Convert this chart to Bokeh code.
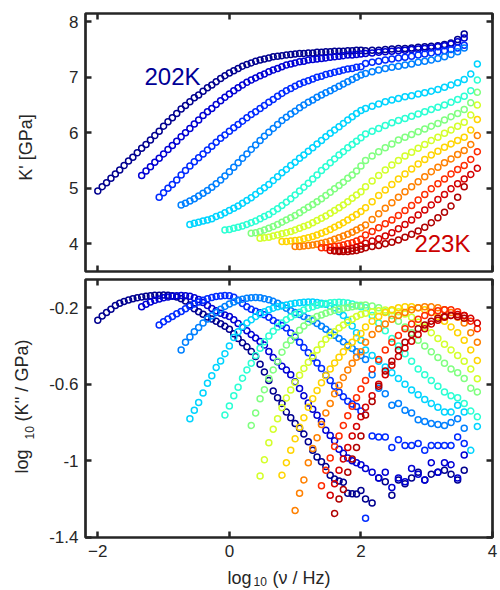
import math
from bokeh.plotting import figure
from bokeh.layouts import column, row
from bokeh.models import Range1d, LinearAxis, FixedTicker, CustomJSTickFormatter, Label
from bokeh.embed import file_html
from bokeh.resources import INLINE

# ---------------- data ----------------
# log10 frequency grids: low-frequency (dense) and high-frequency (sparse) instruments
XD = [-2.0, -1.933, -1.867, -1.8, -1.733, -1.667, -1.6, -1.533, -1.467, -1.4,
      -1.333, -1.267, -1.2, -1.133, -1.067, -1.0, -0.933, -0.867, -0.8, -0.733,
      -0.667, -0.6, -0.533, -0.467, -0.4, -0.333, -0.267, -0.2, -0.133, -0.067,
      0.0, 0.067, 0.133, 0.2, 0.267, 0.333, 0.4, 0.467, 0.533, 0.6,
      0.667, 0.733, 0.8, 0.867, 0.933, 1.0, 1.067, 1.133, 1.2, 1.267,
      1.333, 1.4, 1.467, 1.533, 1.6, 1.667, 1.733, 1.8, 1.867, 1.933, 2.0]
XS = [2.07, 2.17, 2.27, 2.37, 2.47, 2.57, 2.67, 2.77, 2.87, 2.97,
      3.07, 3.17, 3.27, 3.37, 3.47, 3.57, 3.67, 3.77]

# index in XD of first measured point of each temperature (202K ... 223K)
START = [0, 10, 14, 19, 21, 29, 35, 37, 42, 45, 51, 53, 54]

COLORS = ["#00008F", "#0000D4", "#002BFF", "#0080FF", "#00D4FF", "#2BFFD4", "#80FF80",
          "#D4FF2B", "#FFD400", "#FF8000", "#FF2B00", "#D40000", "#B00000"]

# K' [GPa]
TOP_DENSE = [
    [4.95,5.03,5.10,5.18,5.26,5.33,5.41,5.49,5.56,5.64,5.72,5.79,5.87,5.95,6.03,6.12,6.20,6.27,6.35,6.43,6.49,6.56,6.63,6.68,6.75,6.81,6.86,6.92,6.98,7.03,7.08,7.12,7.16,7.20,7.23,7.26,7.29,7.31,7.33,7.35,7.37,7.38,7.39,7.40,7.41,7.42,7.43,7.43,7.44,7.44,7.45,7.45,7.46,7.46,7.47,7.47,7.47,7.48,7.48,7.49,7.49],
    [5.23,5.31,5.39,5.47,5.54,5.62,5.70,5.77,5.85,5.93,6.00,6.08,6.16,6.23,6.31,6.38,6.44,6.51,6.58,6.64,6.70,6.76,6.81,6.86,6.91,6.95,6.99,7.03,7.06,7.10,7.13,7.16,7.19,7.22,7.24,7.26,7.28,7.29,7.31,7.32,7.33,7.34,7.35,7.36,7.37,7.38,7.39,7.40,7.40,7.41,7.42],
    [4.84,4.92,5.00,5.07,5.15,5.24,5.32,5.40,5.48,5.55,5.62,5.69,5.76,5.83,5.90,5.96,6.03,6.09,6.15,6.21,6.27,6.33,6.38,6.44,6.49,6.55,6.60,6.66,6.71,6.76,6.80,6.84,6.88,6.91,6.94,6.97,7.00,7.02,7.05,7.07,7.09,7.11,7.13,7.15,7.16,7.18,7.19],
    [4.70,4.73,4.77,4.81,4.86,4.91,4.96,5.02,5.08,5.15,5.22,5.30,5.38,5.46,5.54,5.62,5.70,5.78,5.86,5.94,6.01,6.08,6.15,6.22,6.28,6.34,6.39,6.45,6.50,6.55,6.59,6.64,6.68,6.72,6.76,6.80,6.84,6.88,6.92,6.96,7.00,7.04],
    [4.35,4.37,4.39,4.41,4.43,4.45,4.49,4.52,4.56,4.60,4.64,4.68,4.73,4.78,4.83,4.89,4.95,5.01,5.07,5.14,5.21,5.28,5.34,5.41,5.47,5.54,5.60,5.67,5.73,5.80,5.86,5.93,5.99,6.05,6.11,6.17,6.23,6.29,6.35,6.40],
    [4.25,4.26,4.28,4.30,4.32,4.35,4.38,4.41,4.45,4.49,4.53,4.58,4.63,4.69,4.75,4.81,4.88,4.95,5.02,5.09,5.17,5.24,5.32,5.39,5.46,5.53,5.60,5.66,5.73,5.79,5.85,5.91],
    [4.19,4.20,4.22,4.25,4.28,4.31,4.35,4.39,4.43,4.47,4.51,4.56,4.61,4.66,4.71,4.76,4.81,4.87,4.93,4.99,5.05,5.11,5.18,5.24,5.31,5.40],
    [4.10,4.11,4.12,4.14,4.16,4.18,4.20,4.22,4.25,4.28,4.31,4.34,4.38,4.42,4.46,4.50,4.55,4.60,4.65,4.70,4.76,4.82,4.88,4.94],
    [4.04,4.04,4.05,4.06,4.07,4.09,4.11,4.13,4.16,4.19,4.22,4.26,4.30,4.34,4.38,4.43,4.48,4.53,4.58],
    [3.95,3.95,3.96,3.97,3.98,3.99,4.01,4.03,4.05,4.08,4.11,4.14,4.17,4.21,4.25,4.29],
    [3.93,3.93,3.94,3.95,3.96,3.98,4.00,4.02,4.05,4.08],
    [3.88,3.88,3.88,3.89,3.90,3.92,3.94,3.96],
    [3.87,3.86,3.86,3.86,3.87,3.88,3.90],
]
TOP_SPARSE = [
    [7.48,7.49,7.49,7.50,7.51,7.52,7.52,7.53,7.54,7.55,7.56,7.57,7.59,7.62,7.68,7.78],
    [7.43,7.44,7.45,7.46,7.47,7.48,7.49,7.50,7.51,7.52,7.53,7.55,7.57,7.60,7.64,7.71],
    [7.25,7.27,7.29,7.31,7.33,7.35,7.36,7.38,7.40,7.42,7.44,7.46,7.48,7.50,7.53,7.58],
    [7.07,7.10,7.13,7.16,7.18,7.20,7.22,7.24,7.27,7.29,7.31,7.34,7.37,7.41,7.46,7.53],
    [6.44,6.48,6.52,6.56,6.59,6.62,6.65,6.67,6.70,6.72,6.75,6.78,6.82,6.86,6.90,6.96,7.06,7.24],
    [5.98,6.03,6.08,6.13,6.18,6.22,6.26,6.30,6.34,6.38,6.42,6.46,6.50,6.55,6.60,6.66,6.76,6.95],
    [5.50,5.58,5.66,5.73,5.80,5.87,5.92,5.97,6.02,6.07,6.12,6.17,6.23,6.29,6.35,6.42,6.54,6.73],
    [5.03,5.13,5.23,5.33,5.42,5.50,5.58,5.65,5.72,5.79,5.86,5.92,5.99,6.05,6.12,6.19,6.32,6.50],
    [4.65,4.76,4.87,4.97,5.07,5.17,5.26,5.35,5.44,5.52,5.60,5.67,5.74,5.80,5.86,5.92,6.05,6.24],
    [4.34,4.44,4.54,4.64,4.74,4.84,4.94,5.03,5.12,5.21,5.30,5.38,5.46,5.53,5.61,5.68,5.79,5.95],
    [4.16,4.22,4.29,4.36,4.43,4.51,4.60,4.69,4.79,4.89,4.99,5.08,5.17,5.26,5.34,5.41,5.52,5.66],
    [4.01,4.05,4.09,4.14,4.20,4.27,4.35,4.43,4.52,4.61,4.70,4.80,4.89,4.99,5.08,5.17,5.25,5.36],
    [3.93,3.95,3.97,4.00,4.03,4.07,4.12,4.17,4.23,4.30,4.38,4.47,4.57,4.68,4.84,5.03],
]

# log10(K'' / GPa)
BOT_DENSE = [
    [-0.265,-0.243,-0.225,-0.207,-0.188,-0.176,-0.167,-0.159,-0.153,-0.148,-0.144,-0.140,-0.137,-0.135,-0.134,-0.133,-0.134,-0.137,-0.143,-0.152,-0.165,-0.185,-0.205,-0.220,-0.234,-0.248,-0.258,-0.270,-0.284,-0.297,-0.312,-0.336,-0.360,-0.383,-0.404,-0.428,-0.455,-0.495,-0.535,-0.580,-0.635,-0.670,-0.700,-0.745,-0.775,-0.805,-0.830,-0.860,-0.900,-0.945,-0.980,-1.005,-1.030,-1.075,-1.095,-1.105,-1.112,-1.170,-1.172,-1.173,-1.155],
    [-0.195,-0.182,-0.170,-0.161,-0.154,-0.148,-0.143,-0.139,-0.137,-0.136,-0.137,-0.140,-0.147,-0.157,-0.172,-0.188,-0.203,-0.216,-0.228,-0.237,-0.245,-0.262,-0.282,-0.302,-0.320,-0.340,-0.358,-0.376,-0.395,-0.428,-0.460,-0.482,-0.505,-0.525,-0.550,-0.587,-0.622,-0.660,-0.698,-0.730,-0.762,-0.795,-0.840,-0.868,-0.895,-0.940,-0.960,-0.985,-1.000,-1.010,-1.020],
    [-0.290,-0.273,-0.258,-0.245,-0.231,-0.219,-0.205,-0.192,-0.180,-0.170,-0.161,-0.153,-0.146,-0.141,-0.138,-0.136,-0.137,-0.145,-0.160,-0.177,-0.195,-0.208,-0.218,-0.226,-0.236,-0.250,-0.266,-0.280,-0.292,-0.305,-0.332,-0.352,-0.380,-0.408,-0.435,-0.462,-0.488,-0.518,-0.552,-0.580,-0.610,-0.642,-0.665,-0.688,-0.703,-0.716,-0.740],
    [-0.420,-0.380,-0.352,-0.325,-0.303,-0.280,-0.258,-0.242,-0.225,-0.208,-0.193,-0.180,-0.170,-0.162,-0.155,-0.150,-0.147,-0.146,-0.148,-0.152,-0.158,-0.166,-0.176,-0.188,-0.202,-0.215,-0.225,-0.235,-0.245,-0.256,-0.268,-0.282,-0.297,-0.312,-0.328,-0.344,-0.360,-0.378,-0.396,-0.413,-0.430,-0.450],
    [-0.780,-0.735,-0.695,-0.645,-0.595,-0.555,-0.512,-0.478,-0.440,-0.400,-0.355,-0.325,-0.298,-0.280,-0.263,-0.246,-0.232,-0.220,-0.210,-0.202,-0.195,-0.190,-0.185,-0.180,-0.176,-0.173,-0.171,-0.170,-0.170,-0.172,-0.176,-0.182,-0.190,-0.200,-0.220,-0.240,-0.265,-0.295,-0.330,-0.370],
    [-0.761,-0.713,-0.660,-0.615,-0.568,-0.525,-0.490,-0.450,-0.412,-0.378,-0.348,-0.322,-0.300,-0.280,-0.262,-0.248,-0.235,-0.223,-0.212,-0.202,-0.194,-0.187,-0.181,-0.177,-0.174,-0.172,-0.171,-0.172,-0.175,-0.180,-0.186,-0.194],
    [-0.815,-0.750,-0.675,-0.628,-0.570,-0.525,-0.480,-0.432,-0.395,-0.370,-0.345,-0.318,-0.295,-0.275,-0.259,-0.246,-0.237,-0.229,-0.221,-0.213,-0.207,-0.203,-0.199,-0.195,-0.190,-0.186],
    [-1.080,-0.995,-0.905,-0.835,-0.780,-0.722,-0.672,-0.630,-0.590,-0.552,-0.517,-0.485,-0.452,-0.420,-0.390,-0.365,-0.345,-0.325,-0.306,-0.290,-0.275,-0.260,-0.246,-0.235],
    [-1.075,-1.010,-0.945,-0.885,-0.825,-0.775,-0.720,-0.675,-0.632,-0.592,-0.555,-0.520,-0.488,-0.458,-0.430,-0.404,-0.380,-0.357,-0.335],
    [-1.260,-1.170,-1.100,-1.010,-0.935,-0.880,-0.810,-0.750,-0.700,-0.650,-0.605,-0.565,-0.525,-0.490,-0.458,-0.430],
    [-1.130,-1.050,-0.985,-0.925,-0.870,-0.815,-0.765,-0.715,-0.670,-0.625],
    [-1.180,-1.120,-1.050,-0.990,-0.930,-0.870,-0.820,-0.770],
    [-1.275,-1.200,-1.150,-1.060,-0.990,-0.930,-0.870],
]
BOT_SPARSE = [
    [-1.20,-1.22,-1.09,-1.11,-1.18,-1.10,-1.12,-1.09,-1.06,-1.10,-1.07,-1.06,-1.05,-1.07,-1.10,-1.05],
    [-1.04,-1.06,-1.09,-1.06,-1.14,-1.09,-1.11,-1.04,-1.07,-1.10,-1.01,-1.06,-1.01,-1.02,-1.09,-0.97],
    [-1.30,-0.87,-0.875,-0.875,-0.93,-0.89,-0.92,-0.92,-0.91,-0.945,-0.92,-0.92,-0.92,-0.92,-0.875,-0.91],
    [-0.47,-0.55,-0.62,-0.65,-0.71,-0.70,-0.735,-0.75,-0.785,-0.795,-0.805,-0.81,-0.815,-0.80,-0.78,-0.83],
    [-0.42,-0.45,-0.48,-0.51,-0.54,-0.57,-0.60,-0.63,-0.655,-0.68,-0.70,-0.72,-0.745,-0.745,-0.71,-0.745,-0.945,-0.82],
    [-0.20,-0.24,-0.28,-0.32,-0.36,-0.40,-0.44,-0.48,-0.52,-0.55,-0.58,-0.61,-0.64,-0.66,-0.67,-0.70,-0.74,-0.77],
    [-0.185,-0.19,-0.20,-0.22,-0.24,-0.27,-0.30,-0.33,-0.37,-0.40,-0.43,-0.46,-0.49,-0.52,-0.54,-0.57,-0.62,-0.64],
    [-0.228,-0.220,-0.215,-0.212,-0.215,-0.221,-0.232,-0.250,-0.275,-0.300,-0.330,-0.360,-0.390,-0.420,-0.450,-0.480,-0.520,-0.571],
    [-0.30,-0.27,-0.245,-0.225,-0.21,-0.20,-0.195,-0.195,-0.20,-0.21,-0.225,-0.245,-0.27,-0.30,-0.33,-0.37,-0.42,-0.476],
    [-0.38,-0.34,-0.31,-0.285,-0.26,-0.24,-0.225,-0.21,-0.20,-0.195,-0.195,-0.20,-0.21,-0.225,-0.25,-0.28,-0.33,-0.38],
    [-0.58,-0.52,-0.47,-0.42,-0.38,-0.345,-0.31,-0.285,-0.26,-0.24,-0.225,-0.215,-0.21,-0.21,-0.22,-0.24,-0.27,-0.31],
    [-0.72,-0.66,-0.60,-0.55,-0.50,-0.455,-0.41,-0.375,-0.34,-0.31,-0.285,-0.265,-0.25,-0.24,-0.235,-0.24,-0.255,-0.28],
    [-0.76,-0.69,-0.61,-0.53,-0.48,-0.42,-0.38,-0.34,-0.31,-0.29,-0.27,-0.255,-0.245,-0.24,-0.245,-0.255],
]

X_TICKS = [-2, 0, 2, 4]
TOP_Y_TICKS = [4, 5, 6, 7, 8]
BOT_Y_TICKS = [-1.4, -1.0, -0.6, -0.2]

# ---------------- styling ----------------
INK = "#262626"
FONT = "Liberation Sans"
STRIP_W = 40      # left strip holding the y-axis titles
MAIN_H = 565      # height of the two stacked panels
XSTRIP_H = 25     # bottom strip holding the x-axis title


def style_axis(ax, ticks, labels=True):
    ax.ticker = FixedTicker(ticks=ticks)
    ax.major_tick_in = 6
    ax.major_tick_out = 0
    ax.minor_tick_line_color = None
    ax.major_tick_line_width = 2.5
    ax.major_tick_line_color = INK
    ax.axis_line_color = None
    ax.major_label_text_font = FONT
    if labels:
        ax.major_label_text_color = INK
        ax.major_label_text_font_size = "17px"
        ax.major_label_standoff = 7
    else:
        ax.major_label_text_color = None
        ax.major_label_text_alpha = 0
        ax.major_label_text_font_size = "1px"
        ax.major_label_standoff = 0


def make_panel(height, yr, btop, bbottom, yticks, xlabels, yformatter=None):
    p = figure(width=500 - STRIP_W, height=height, x_range=Range1d(-2.187, 4.0), y_range=Range1d(*yr),
               output_backend="svg", toolbar_location=None,
               min_border_left=85 - STRIP_W, min_border_right=8,
               min_border_top=btop, min_border_bottom=bbottom)
    p.xgrid.visible = False
    p.ygrid.visible = False
    p.outline_line_color = INK
    p.outline_line_width = 2.7
    p.background_fill_color = "white"
    p.border_fill_color = "white"
    style_axis(p.xaxis[0], X_TICKS, xlabels)
    style_axis(p.yaxis[0], yticks, True)
    if yformatter is not None:
        p.yaxis[0].formatter = yformatter
    top_ax = LinearAxis()
    style_axis(top_ax, X_TICKS, False)
    p.add_layout(top_ax, "above")
    right_ax = LinearAxis()
    style_axis(right_ax, yticks, False)
    p.add_layout(right_ax, "right")
    return p


def make_strip(w, h):
    s = figure(width=w, height=h, x_range=Range1d(0, w), y_range=Range1d(0, h),
               output_backend="svg", toolbar_location=None, min_border=0,
               x_axis_location=None, y_axis_location=None)
    s.xgrid.visible = False
    s.ygrid.visible = False
    s.outline_line_color = None
    s.background_fill_color = "white"
    s.border_fill_color = "white"
    return s


def draw(p, dense, sparse):
    for i in range(len(COLORS)):
        pts = list(zip(XD[START[i]:], dense[i])) + list(zip(XS, sparse[i]))
        xs = [a for a, _ in pts]
        ys = [b for _, b in pts]
        p.scatter(xs, ys, marker="circle", size=6.0, fill_color=None,
                  line_color=COLORS[i], line_width=1.5)


# top panel: frame page y 13..271
p1 = make_panel(275, (3.501, 8.150), 13, 4, TOP_Y_TICKS, False)
draw(p1, TOP_DENSE, TOP_SPARSE)
p1.add_layout(Label(x=-1.29, y=7.014, text="202K", text_font=FONT, text_font_size="24px",
                    text_color="#000096", text_align="left", text_baseline="middle"))
p1.add_layout(Label(x=2.813, y=4.005, text="223K", text_font=FONT, text_font_size="24px",
                    text_color="#CC0000", text_align="left", text_baseline="middle"))

# bottom panel: frame page y 279..537
fmt = CustomJSTickFormatter(code="return String(Math.round(tick*10)/10);")
p2 = make_panel(MAIN_H - 275, (-1.401, -0.052), 4, 28, BOT_Y_TICKS, True, fmt)
draw(p2, BOT_DENSE, BOT_SPARSE)


def lab(s, px, py, page_top, h, text, size, angle=0.0, align="left"):
    # (px, py): page position of the text's vertical middle
    s.add_layout(Label(x=px, y=page_top + h - py, text=text, angle=angle,
                       text_font=FONT, text_font_size=size, text_color=INK,
                       text_align=align, text_baseline="middle"))


# left strip: y-axis titles (page coordinates)
ys = make_strip(STRIP_W, MAIN_H)
lab(ys, 25, 147, 0, MAIN_H, "K' [GPa]", "18px", math.pi / 2, "center")
lab(ys, 21, 473, 0, MAIN_H, "log", "18px", math.pi / 2)
lab(ys, 29, 439, 0, MAIN_H, "10", "12px", math.pi / 2)
lab(ys, 21, 421, 0, MAIN_H, "(K'' / GPa)", "18px", math.pi / 2)

# bottom strip: x-axis title
xs_strip = make_strip(500, XSTRIP_H)
lab(xs_strip, 227, 577, MAIN_H, XSTRIP_H, "log", "18px")
lab(xs_strip, 253, 581, MAIN_H, XSTRIP_H, "10", "12px")
lab(xs_strip, 272, 577, MAIN_H, XSTRIP_H, "(\u03bd / Hz)", "18px")

layout = column(row(ys, column(p1, p2)), xs_strip)
open("out.html", "w").write(file_html(layout, INLINE))
